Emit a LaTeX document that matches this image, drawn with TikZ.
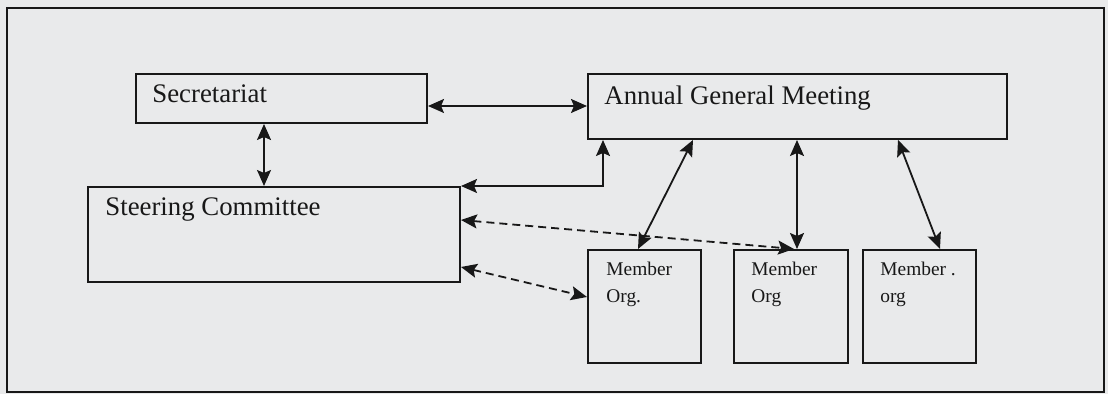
\documentclass[tikz,border=0pt]{standalone}
\usepackage{fontspec}
\setmainfont{Liberation Serif}
\usepackage{xcolor}
\usepackage{tikz}
\usetikzlibrary{arrows.meta, calc}

\definecolor{scan}{RGB}{233,234,235}
\definecolor{ink}{RGB}{24,24,24}

\begin{document}
\begin{tikzpicture}[x=0.5pt, y=-0.5pt]
\tikzstyle{box} = [rectangle, draw=ink, line width=1pt, anchor=north west, inner sep=0pt]
\tikzstyle{member} = [box, minimum width=56.5pt, minimum height=56.5pt]
\tikzstyle{boxtext} = [anchor=base west, inner sep=0pt, text=ink, font=\fontsize{13.4}{16}\selectfont]
\tikzstyle{membertext} = [anchor=base west, inner sep=0pt, text=ink, align=left, font=\fontsize{9.7}{13.5}\selectfont]
\tikzstyle{arrow} = [line width=0.9pt, draw=ink, >={Stealth[length=8pt,width=7pt,inset=1.5pt]}, <->]
\tikzstyle{dasharrow} = [arrow, dash pattern=on 4pt off 2.5pt]

% page and frame
\fill[scan] (0,0) rectangle (1108,394);
\useasboundingbox (0,0) rectangle (1108,394);
\draw[ink, line width=1pt] (7,8) rectangle (1104,392);

% boxes
\node (sec) [box, minimum width=145.5pt, minimum height=24.5pt] at (135,73) {};
\node (agm) [box, minimum width=209.5pt, minimum height=32.5pt] at (587,73) {};
\node (steer) [box, minimum width=186pt, minimum height=47.5pt] at (87,186) {};
\node (orga) [member] at (587,249) {};
\node (orgb) [member, minimum width=57pt] at (733,249) {};
\node (orgc) [member] at (862,249) {};

% texts (multi-line ones sit on their last baseline)
\node (sectext) [boxtext] at ($(sec.north west)+(17,30)$) {Secretariat};
\node (agmtext) [boxtext] at ($(agm.north west)+(17,32)$) {Annual General Meeting};
\node (steertext) [boxtext] at ($(steer.north west)+(18,30)$) {Steering Committee};
\node (orgatext) [membertext] at ($(orga.north west)+(19,54)$) {Member\\Org.};
\node (orgbtext) [membertext] at ($(orgb.north west)+(18,54)$) {Member\\Org};
\node (orgctext) [membertext] at ($(orgc.north west)+(18,54)$) {Member .\\org};

% links
\draw [arrow] ($(sec.north east)+(0,33)$) -- ($(agm.north west)+(0,33)$);
\draw [arrow] ($(sec.south west)+(129,0)$) -- ($(steer.north west)+(177,0)$);
\draw [arrow] ($(agm.south west)+(16,0)$) |- (steer.north east);
\draw [arrow] ($(agm.south west)+(106,0)$) -- ($(orga.north west)+(51,0)$);
\draw [arrow] ($(agm.south west)+(210,0)$) -- ($(orgb.north west)+(64,0)$);
\draw [arrow] ($(agm.south west)+(311,0)$) -- ($(orgc.north west)+(78,0)$);
\draw [dasharrow] ($(steer.north east)+(0,34)$) -- ($(orgb.north west)+(61,0)$);
\draw [dasharrow] ($(steer.north east)+(0,81)$) -- ($(orga.north west)+(0,48)$);

\end{tikzpicture}
\end{document}
